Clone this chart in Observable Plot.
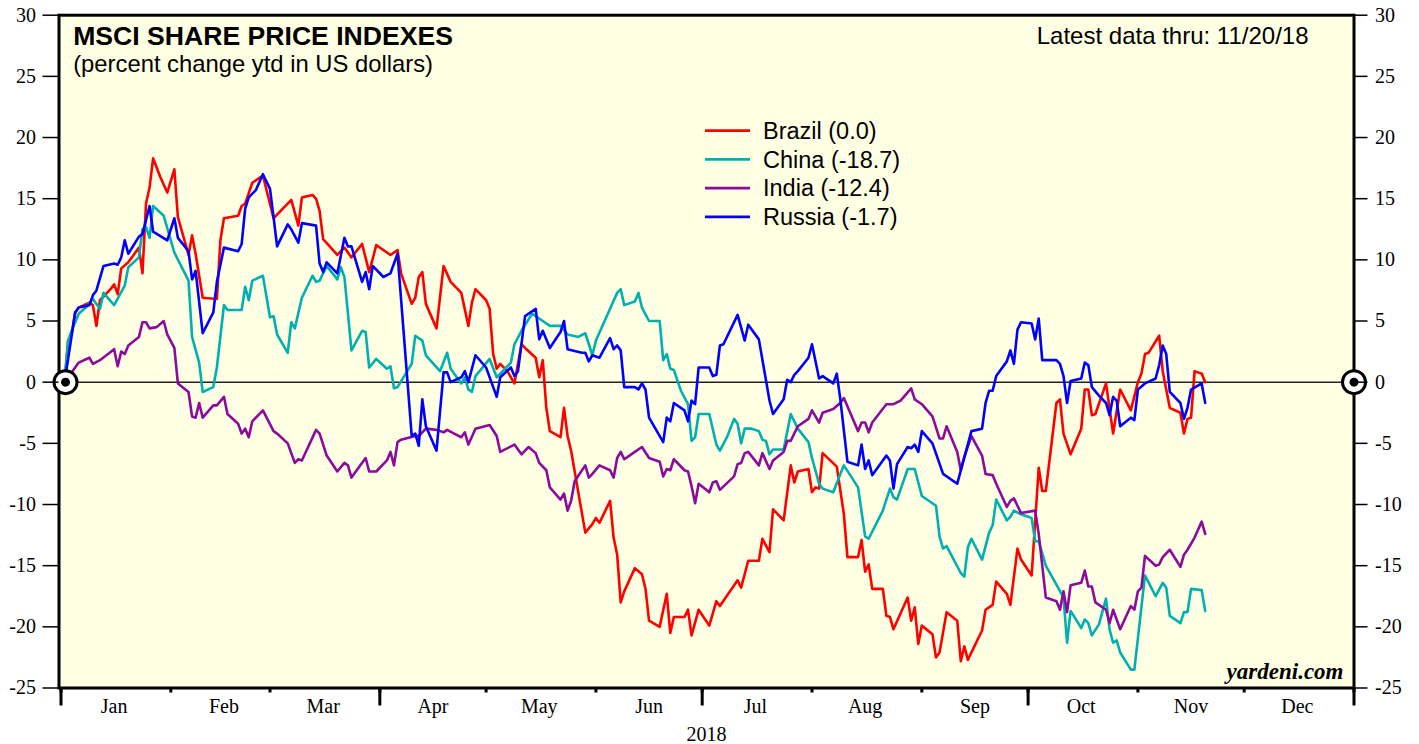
<!DOCTYPE html>
<html>
<head>
<meta charset="utf-8">
<script src="https://cdn.jsdelivr.net/npm/d3@7"></script>
<script src="https://cdn.jsdelivr.net/npm/@observablehq/plot@0.6"></script>
<style>
  html, body { margin: 0; padding: 0; background: #ffffff; }
  #chart { width: 1419px; height: 744px; }
</style>
</head>
<body>
<div id="chart"></div>
<script>
// ---- Data: [day of 2018 (0 = Jan 1), percent change ytd in US dollars] ----
const brazil = [[1,0],[2,3.4],[3,3.9],[4,5.7],[5,6.1],[8,6.5],[9,6.3],[10,4.6],[11,6.7],[14,7.6],[15,8.0],[16,7.2],[17,9.3],[19,9.8],[22,11.0],[23,8.9],[24,14.6],[25,15.9],[26,18.3],[28,16.8],[30,15.5],[32,17.4],[33,13.5],[36,10.4],[37,12.0],[38,10.5],[40,6.9],[44,6.8],[45,11.6],[46,13.4],[50,13.6],[51,14.4],[52,14.6],[54,16.3],[57,16.9],[60,13.4],[62,14.0],[64,14.6],[65,14.9],[67,12.8],[68,15.1],[71,15.3],[72,15.0],[73,14.0],[74,11.7],[78,10.4],[80,11.0],[82,10.2],[85,11.3],[87,9.0],[89,11.2],[92,10.6],[93,10.4],[95,10.8],[96,8.9],[99,6.4],[100,6.9],[101,8.6],[102,9.0],[103,6.4],[106,4.4],[108,9.5],[110,8.2],[113,7.3],[115,4.6],[116,6.5],[117,7.6],[120,6.7],[121,6.0],[122,2.3],[123,1.1],[124,1.5],[126,0.9],[128,-0.1],[130,3.1],[131,2.8],[134,2.0],[135,0.4],[136,1.8],[137,-2.1],[138,-4.0],[141,-4.5],[142,-2.1],[143,-4.4],[144,-5.6],[148,-12.3],[150,-11.6],[151,-11.1],[152,-11.5],[155,-9.7],[156,-12.7],[157,-14.1],[158,-18.0],[159,-17.1],[162,-15.2],[164,-15.7],[165,-16.9],[166,-19.5],[169,-20.0],[171,-17.3],[172,-20.5],[173,-19.2],[176,-19.2],[177,-18.6],[178,-20.7],[180,-18.6],[183,-19.9],[185,-17.9],[186,-18.3],[191,-16.2],[192,-16.8],[194,-14.6],[197,-14.6],[198,-12.8],[200,-13.9],[201,-10.4],[204,-11.3],[206,-6.8],[207,-8.2],[208,-7.3],[211,-7.1],[212,-9.0],[213,-8.6],[214,-8.7],[215,-5.8],[219,-6.9],[221,-10.8],[222,-14.3],[225,-14.3],[226,-12.9],[227,-15.5],[228,-14.9],[229,-16.9],[232,-16.9],[233,-19.1],[234,-19.2],[235,-20.2],[239,-17.6],[240,-19.5],[241,-18.4],[242,-21.4],[243,-19.9],[246,-20.6],[247,-22.5],[248,-22.1],[250,-18.8],[253,-19.5],[254,-22.8],[255,-21.6],[256,-22.7],[260,-20.3],[261,-18.6],[263,-18.2],[264,-16.3],[267,-17.3],[268,-18.2],[270,-13.6],[271,-14.5],[274,-15.8],[276,-7.0],[277,-8.9],[278,-8.9],[281,-1.7],[282,-1.4],[283,-4.2],[285,-5.9],[288,-3.8],[289,-0.6],[290,-0.6],[291,-2.7],[292,-2.6],[295,-0.1],[297,-4.2],[299,-0.6],[302,-2.3],[304,0.0],[305,0.7],[306,2.3],[307,2.4],[310,3.8],[311,0.9],[313,-2.1],[316,-2.5],[317,-4.2],[318,-3.0],[319,-2.9],[320,0.9],[322,0.7],[323,0.0]];

const china = [[1,0],[2,3.4],[3,4.2],[5,5.6],[7,6.1],[9,6.8],[11,6.0],[12,7.3],[15,6.3],[18,7.9],[19,9.4],[22,10.2],[23,12.5],[24,12.7],[25,11.8],[26,14.4],[29,13.6],[32,10.6],[36,8.3],[37,3.7],[39,1.6],[40,-0.8],[43,-0.4],[44,1.2],[46,6.3],[47,5.9],[51,5.9],[52,7.8],[53,6.7],[54,8.3],[57,8.7],[59,5.3],[60,5.4],[61,3.9],[64,2.4],[65,4.9],[66,4.4],[68,6.9],[71,8.7],[72,8.2],[73,8.3],[75,9.5],[78,8.4],[79,9.4],[80,8.6],[82,2.6],[85,4.2],[86,4.1],[87,1.2],[89,1.9],[92,1.1],[93,1.3],[94,-0.5],[95,-0.4],[99,1.5],[100,3.8],[102,3.4],[103,2.2],[107,0.9],[109,2.4],[110,1.1],[113,-0.1],[114,0.4],[115,-0.6],[116,-0.8],[117,0.5],[121,1.9],[123,0.4],[127,1.6],[128,3.1],[130,4.2],[133,5.6],[136,5.0],[138,4.6],[141,4.6],[143,3.9],[146,3.7],[148,4.0],[150,2.2],[151,3.4],[155,6.0],[157,7.3],[158,7.6],[159,6.3],[162,6.6],[163,7.3],[164,6.1],[166,5.0],[169,5.0],[170,1.8],[171,2.3],[172,1.1],[173,1.0],[175,-0.7],[177,-1.8],[178,-4.8],[179,-4.5],[180,-2.6],[183,-2.6],[185,-5.1],[186,-5.6],[188,-4.5],[190,-3.0],[191,-3.4],[192,-5.0],[193,-3.8],[195,-3.8],[197,-4.0],[198,-4.7],[199,-4.8],[200,-5.9],[201,-5.5],[204,-5.5],[206,-2.6],[208,-3.8],[211,-4.9],[212,-6.2],[214,-8.3],[215,-8.7],[218,-9.0],[220,-7.5],[221,-6.8],[225,-8.6],[227,-12.6],[228,-12.8],[232,-10.5],[234,-8.7],[235,-9.4],[236,-9.6],[239,-7.1],[241,-7.1],[243,-9.3],[247,-10.1],[248,-12.6],[249,-13.6],[250,-13.4],[254,-15.6],[255,-15.9],[256,-13.5],[257,-12.8],[260,-14.5],[262,-12.3],[263,-11.7],[264,-9.6],[267,-11.3],[268,-11.0],[269,-10.5],[271,-10.8],[274,-11.1],[275,-13.0],[276,-13.0],[278,-15.0],[283,-17.6],[284,-21.3],[285,-18.7],[288,-20.1],[289,-19.4],[290,-19.7],[291,-20.7],[293,-19.8],[295,-17.7],[296,-20.2],[297,-21.3],[298,-21.1],[299,-22.1],[302,-23.5],[303,-23.5],[306,-15.8],[309,-17.5],[311,-16.4],[312,-16.8],[313,-19.1],[316,-19.7],[317,-18.8],[318,-18.8],[319,-16.9],[322,-17.0],[323,-18.7]];

const india = [[1,0],[4,1.2],[5,1.6],[8,2.0],[9,1.5],[11,1.8],[15,2.7],[16,1.3],[17,2.5],[18,2.3],[19,3.0],[22,3.7],[23,4.9],[24,4.9],[25,4.4],[27,4.5],[29,5.0],[30,3.9],[32,2.8],[33,-0.1],[36,-0.8],[37,-2.8],[38,-2.9],[39,-1.7],[40,-2.9],[43,-1.9],[44,-1.9],[46,-1.2],[47,-2.6],[50,-3.4],[51,-4.2],[52,-3.8],[53,-4.5],[54,-3.2],[57,-2.3],[60,-4.0],[61,-4.2],[64,-5.0],[66,-6.6],[67,-6.3],[68,-6.4],[72,-3.9],[73,-4.2],[75,-6.0],[78,-7.3],[80,-6.6],[81,-6.8],[82,-7.8],[86,-6.2],[87,-7.3],[89,-7.3],[92,-6.4],[93,-5.7],[94,-6.8],[95,-4.9],[96,-4.7],[100,-4.4],[101,-4.4],[103,-3.8],[106,-3.9],[108,-4.1],[109,-3.9],[111,-4.2],[113,-4.5],[114,-4.1],[115,-5.1],[117,-3.8],[121,-3.5],[123,-4.4],[124,-5.7],[128,-5.1],[129,-5.5],[130,-5.9],[132,-5.3],[134,-5.8],[135,-6.6],[137,-7.2],[138,-8.6],[141,-9.6],[142,-9.1],[143,-10.5],[144,-9.7],[145,-8.1],[148,-6.8],[149,-7.8],[150,-7.5],[152,-6.8],[155,-7.2],[156,-7.8],[157,-6.2],[158,-5.7],[159,-6.3],[162,-5.7],[164,-5.3],[166,-6.2],[169,-6.5],[170,-7.7],[171,-7.1],[172,-7.2],[173,-6.3],[176,-7.2],[177,-7.3],[178,-8.5],[179,-9.9],[180,-8.3],[183,-9.0],[184,-8.2],[185,-8.1],[186,-8.8],[190,-7.7],[191,-6.7],[192,-6.6],[193,-5.8],[194,-5.7],[197,-6.8],[198,-5.8],[200,-7.1],[201,-6.4],[204,-5.7],[205,-4.8],[206,-4.8],[208,-3.6],[211,-3.0],[212,-2.3],[214,-3.3],[215,-2.5],[218,-2.2],[220,-1.7],[221,-1.3],[225,-4.0],[226,-3.3],[227,-3.3],[228,-4.1],[229,-3.3],[233,-1.8],[235,-1.8],[237,-1.5],[240,-0.5],[241,-1.4],[243,-1.8],[246,-2.8],[248,-4.6],[249,-4.6],[250,-3.6],[253,-5.7],[254,-7.2],[255,-6.1],[257,-4.4],[260,-6.0],[261,-7.5],[263,-7.6],[264,-8.3],[267,-10.2],[268,-9.7],[269,-9.5],[271,-10.7],[275,-10.5],[276,-12.4],[278,-17.6],[281,-17.9],[282,-18.6],[283,-17.1],[284,-18.8],[285,-16.6],[288,-16.4],[289,-15.4],[290,-16.7],[291,-16.7],[292,-18.0],[295,-18.6],[296,-19.7],[297,-18.6],[299,-20.2],[302,-18.3],[303,-18.6],[304,-17.1],[305,-16.8],[306,-14.2],[309,-15.0],[310,-14.9],[311,-14.3],[313,-13.7],[316,-15.1],[317,-14.1],[318,-13.7],[320,-12.7],[322,-11.4],[323,-12.4]];

const russia = [[1,0],[4,5.7],[5,6.1],[8,6.3],[9,7.1],[10,7.5],[12,9.5],[15,9.7],[16,9.6],[17,10.2],[18,11.6],[19,10.5],[22,11.9],[23,12.1],[25,14.4],[26,12.3],[30,11.6],[32,13.4],[33,11.8],[36,10.7],[37,8.4],[38,9.1],[40,4.0],[43,5.7],[44,8.2],[46,11.0],[50,10.7],[51,11.3],[52,14.2],[53,15.1],[55,15.7],[57,17.0],[59,15.8],[60,13.5],[61,11.1],[64,12.9],[65,12.5],[67,11.4],[68,13.0],[72,12.8],[73,9.7],[74,9.0],[75,9.8],[78,8.9],[80,11.8],[81,11.1],[82,11.1],[85,8.2],[86,9.0],[87,7.6],[88,9.5],[91,8.6],[93,8.9],[95,10.5],[99,-4.4],[100,-4.2],[101,-5.2],[102,-1.4],[103,-3.6],[106,-5.6],[108,0.8],[109,0.8],[110,0.0],[113,0.4],[114,0.9],[115,0.0],[117,2.2],[120,1.2],[123,-1.2],[124,0.4],[127,1.2],[128,0.5],[129,0.9],[131,5.4],[134,6.0],[135,3.5],[136,4.2],[138,2.8],[141,4.1],[142,5.0],[143,2.7],[147,2.4],[148,2.4],[149,1.7],[150,2.2],[152,2.0],[155,3.6],[156,2.7],[157,3.0],[158,2.6],[159,-0.4],[162,-0.4],[163,-0.6],[164,-0.1],[165,-0.6],[166,-2.9],[170,-4.9],[171,-2.9],[172,-3.2],[173,-1.7],[176,-2.3],[177,-3.2],[178,-1.5],[179,-1.8],[180,1.2],[183,1.2],[184,0.5],[185,0.6],[186,3.0],[187,3.1],[191,5.5],[193,3.4],[194,4.7],[197,3.5],[200,-1.5],[201,-2.6],[204,-1.4],[205,0.2],[206,0.0],[207,0.6],[208,0.9],[211,2.0],[212,3.1],[214,0.3],[215,0.5],[218,-0.1],[219,0.7],[220,-1.4],[222,-6.5],[225,-6.8],[226,-5.1],[227,-7.1],[228,-6.4],[229,-7.6],[233,-6.0],[234,-6.4],[235,-8.7],[236,-6.7],[239,-5.3],[240,-5.4],[241,-5.1],[242,-5.7],[243,-4.0],[246,-5.0],[249,-7.5],[253,-8.3],[257,-4.0],[260,-3.8],[261,-1.7],[262,-0.7],[263,-0.7],[264,0.5],[267,1.7],[268,2.6],[269,1.5],[270,4.3],[271,4.9],[274,4.8],[275,3.5],[276,5.2],[277,1.8],[281,1.8],[282,1.5],[283,0.5],[284,-1.7],[285,0.1],[288,0.3],[289,1.6],[290,1.4],[291,-0.4],[293,-1.1],[295,-1.7],[296,-2.7],[297,-1.2],[298,-1.5],[299,-3.6],[302,-2.9],[303,-3.1],[304,-0.6],[306,-0.1],[309,0.3],[310,1.4],[311,3.0],[312,2.3],[313,-0.8],[316,-1.7],[317,-3.0],[318,-2.1],[319,-0.6],[322,-0.1],[323,-1.7]];

const seriesNames = ["Brazil", "China", "India", "Russia"];
const seriesLabels = ["Brazil (0.0)", "China (-18.7)", "India (-12.4)", "Russia (-1.7)"];
const seriesColors = ["#ff0000", "#00b0b0", "#8c0a9c", "#0000ff"];
const monthLabels = ["Jan","Feb","Mar","Apr","May","Jun","Jul","Aug","Sep","Oct","Nov","Dec"];
const yTicks = [-25,-20,-15,-10,-5,0,5,10,15,20,25,30];
const titleText = "MSCI SHARE PRICE INDEXES";
const subtitleText = "(percent change ytd in US dollars)";
const latestText = "Latest data thru: 11/20/18";
const yearText = "2018";
const sourceText = "yardeni.com";

// ---- Build table ----
const dayToDate = d => new Date(Date.UTC(2018, 0, 1 + d));
const allSeries = [brazil, china, india, russia];
const rows = allSeries.flatMap((pts, i) => pts.map(([d, v]) => ({name: seriesNames[i], date: dayToDate(d), value: v})));
const monthStarts = d3.range(0, 13).map(m => new Date(Date.UTC(2018, m, 1)));
const quarterStarts = monthStarts.filter((d, i) => i % 3 === 0);
const monthMids = d3.range(0, 12).map(m => new Date(Date.UTC(2018, m, 16)));

const sans = "'Liberation Sans', Arial, Helvetica, sans-serif";
const serif = "'Liberation Serif', 'Times New Roman', serif";
const bg = "#ffffe3";

const chart = Plot.plot({
  width: 1419,
  height: 744,
  marginLeft: 58.5,
  marginRight: 65.5,
  marginTop: 14.7,
  marginBottom: 56.5,
  style: {fontFamily: serif, fontSize: "20px", background: "#ffffff", color: "#000", overflow: "visible"},
  x: {type: "utc", domain: [monthStarts[0], monthStarts[12]], insetLeft: 2, insetRight: 0},
  y: {domain: [-25, 30]},
  color: {domain: seriesNames, range: seriesColors},
  marks: [
    Plot.frame({fill: bg, stroke: "none"}),
    Plot.ruleY([0], {stroke: "#222", strokeWidth: 1.6}),
    Plot.line(rows, {x: "date", y: "value", z: "name", stroke: "name", strokeWidth: 2.6, strokeLinejoin: "round"}),
    Plot.frame({stroke: "#000", strokeWidth: 3}),
    Plot.dot([0], {y: d => d, frameAnchor: "left", dx: 6.5, r: 11.5, fill: "#fff", stroke: "#000", strokeWidth: 3}),
    Plot.dot([0], {y: d => d, frameAnchor: "left", dx: 6.5, r: 4.5, fill: "#000", stroke: "none"}),
    Plot.dot([0], {y: d => d, frameAnchor: "right", dx: 0, r: 11.5, fill: "#fff", stroke: "#000", strokeWidth: 3}),
    Plot.dot([0], {y: d => d, frameAnchor: "right", dx: 0, r: 4.5, fill: "#000", stroke: "none"}),
    Plot.axisY(yTicks, {anchor: "left", tickSize: 16, tickPadding: 7, strokeWidth: 1.5, tickFormat: d => String(d), fontSize: 20, label: null}),
    Plot.axisY(yTicks, {anchor: "right", tickSize: 13, tickPadding: 8, strokeWidth: 1.5, tickFormat: d => String(d), fontSize: 20, label: null}),
    Plot.axisX(monthStarts, {anchor: "bottom", tickSize: 5, strokeWidth: 3, tickFormat: () => "", label: null}),
    Plot.axisX(quarterStarts, {anchor: "bottom", tickSize: 18, strokeWidth: 3, tickFormat: () => "", label: null}),
    Plot.axisX(monthMids, {anchor: "bottom", tickSize: 0, tickPadding: 11, tickFormat: d => monthLabels[d.getUTCMonth()], fontSize: 20, label: null}),
    Plot.text([yearText], {text: d => d, frameAnchor: "bottom", dy: 53, lineAnchor: "bottom", fontSize: 20, fontFamily: serif}),
    Plot.text([titleText], {text: d => d, frameAnchor: "top-left", dx: 14.2, dy: 29.3, lineAnchor: "bottom", textAnchor: "start", fontSize: 26.6, fontWeight: "bold", fontFamily: sans}),
    Plot.text([subtitleText], {text: d => d, frameAnchor: "top-left", dx: 14.2, dy: 57, lineAnchor: "bottom", textAnchor: "start", fontSize: 23.8, fontFamily: sans}),
    Plot.text([latestText], {text: d => d, frameAnchor: "top-right", dx: -45.5, dy: 28.3, lineAnchor: "bottom", textAnchor: "end", fontSize: 24, fontFamily: sans}),
    Plot.text([sourceText], {text: d => d, frameAnchor: "bottom-right", dx: -10.5, dy: -9.5, lineAnchor: "bottom", textAnchor: "end", fontSize: 23, fontWeight: "bold", fontStyle: "italic", fontFamily: serif})
  ]
});

// ---- Legend (inside plot area) ----
const svg = d3.select(chart);
const legend = svg.append("g").attr("class", "legend").attr("text-anchor", "start");
seriesNames.forEach((name, i) => {
  const yLine = 130.7 + i * 28.7;
  legend.append("line")
    .attr("x1", 705).attr("x2", 750).attr("y1", yLine).attr("y2", yLine)
    .attr("stroke", seriesColors[i]).attr("stroke-width", 2.8);
  legend.append("text")
    .attr("x", 763).attr("y", yLine + 8.3)
    .attr("text-anchor", "start")
    .attr("font-family", sans).attr("font-size", 23.5).attr("fill", "#000")
    .text(seriesLabels[i]);
});

document.getElementById("chart").appendChild(chart);
</script>
</body>
</html>
